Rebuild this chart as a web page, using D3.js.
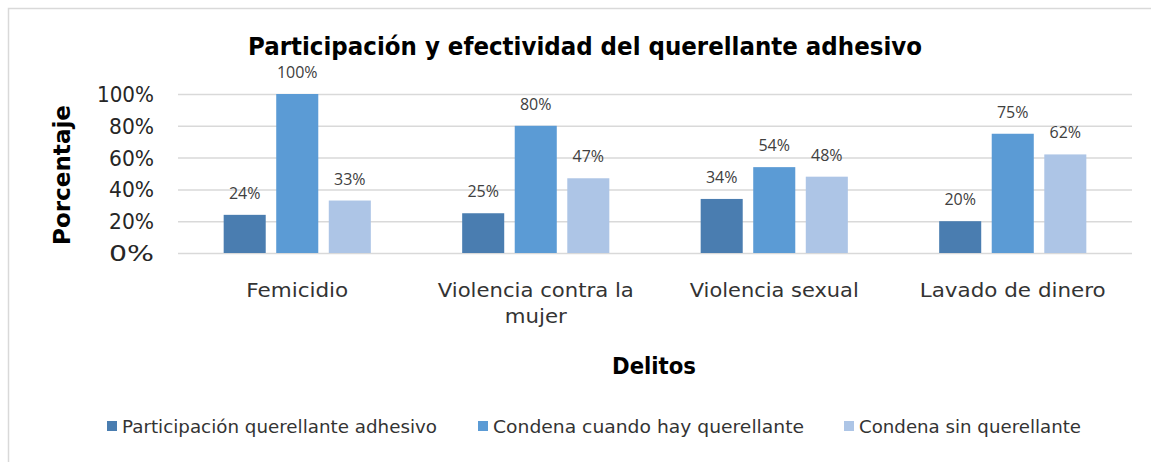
<!DOCTYPE html>
<html><head><meta charset="utf-8">
<script src="https://cdn.jsdelivr.net/npm/d3@7"></script>
<style>body{margin:0;background:#fff}</style>
</head><body>
<svg id="c" width="1151" height="462"></svg>
<script>
const categories = ["Femicidio", "Violencia contra la mujer", "Violencia sexual", "Lavado de dinero"];
const categoryLines = [["Femicidio"], ["Violencia contra la", "mujer"], ["Violencia sexual"], ["Lavado de dinero"]];
const seriesNames = ["Participación querellante adhesivo", "Condena cuando hay querellante", "Condena sin querellante"];
const participacion = [24, 25, 34, 20];
const condenaCon = [100, 80, 54, 75];
const condenaSin = [33, 47, 48, 62];
const yTicks = [0, 20, 40, 60, 80, 100];
const colors = ["#4A7DB0", "#5B9BD5", "#ADC5E6"];
const seriesValues = [participacion, condenaCon, condenaSin];

const svg = d3.select("#c");
const GOTHIC = "'DejaVu Sans', sans-serif";

svg.append("rect").attr("x", 8.5).attr("y", 8.5).attr("width", 1150).attr("height", 460)
  .attr("fill", "none").attr("stroke", "#D9D9D9").attr("stroke-width", 1.5);

const x0 = d3.scaleBand().domain(categories).range([178, 1132]).paddingInner(0.383).paddingOuter(0.1915);
const x1 = d3.scaleBand().domain(seriesNames).range([0, x0.bandwidth()]).paddingInner(0.2);
const y = d3.scaleLinear().domain([0, 100]).range([253, 94]);

function fit(sel, w) { sel.attr("textLength", w).attr("lengthAdjust", "spacingAndGlyphs"); return sel; }

// gridlines
const yAxis = d3.axisLeft(y).tickValues(yTicks).tickSize(-(1132 - 178)).tickFormat(d => d + "%");
const ga = svg.append("g").attr("transform", "translate(178,0)").call(yAxis);
ga.select(".domain").remove();
ga.selectAll(".tick line").attr("stroke", "#D9D9D9").attr("stroke-width", 1.5);
ga.selectAll(".tick text").attr("x", -24).attr("dy", "0.36em")
  .attr("font-family", GOTHIC).attr("font-size", 21).attr("fill", "#262626")
  .each(function(d){ fit(d3.select(this), d === 100 ? 57 : 45); });

// bars
const groups = svg.append("g").selectAll("g").data(categories).join("g")
  .attr("transform", d => `translate(${x0(d)},0)`);
seriesNames.forEach((s, si) => {
  groups.append("rect")
    .attr("x", x1(s)).attr("width", x1.bandwidth())
    .attr("y", (d, i) => y(seriesValues[si][i]))
    .attr("height", (d, i) => y(0) - y(seriesValues[si][i]))
    .attr("fill", colors[si]);
  groups.append("text")
    .attr("x", x1(s) + x1.bandwidth() / 2)
    .attr("y", (d, i) => y(seriesValues[si][i]) - 16)
    .attr("text-anchor", "middle")
    .attr("font-family", "'Open Sans', sans-serif").attr("font-size", 16).attr("fill", "#404040")
    .text((d, i) => seriesValues[si][i] + "%");
});

// category labels
const widths = [[102], [196, 62], [169], [186]];
categories.forEach((c, i) => {
  categoryLines[i].forEach((line, li) => {
    const t = svg.append("text").attr("x", x0(c) + x0.bandwidth() / 2).attr("y", 297 + li * 26)
      .attr("text-anchor", "middle").attr("font-family", GOTHIC).attr("font-size", 19).attr("fill", "#333")
      .text(line);
    fit(t, widths[i][li]);
  });
});

// title
fit(svg.append("text").attr("x", 585).attr("y", 55).attr("text-anchor", "middle")
  .attr("font-family", GOTHIC).attr("font-weight", "bold").attr("font-size", 25).attr("fill", "#000")
  .text("Participación y efectividad del querellante adhesivo"), 674);

// axis titles
fit(svg.append("text").attr("x", 654).attr("y", 374).attr("text-anchor", "middle")
  .attr("font-family", GOTHIC).attr("font-weight", "bold").attr("font-size", 23).attr("fill", "#000")
  .text("Delitos"), 84);
fit(svg.append("text").attr("transform", "translate(70,175) rotate(-90)").attr("text-anchor", "middle")
  .attr("font-family", GOTHIC).attr("font-weight", "bold").attr("font-size", 23).attr("fill", "#000")
  .text("Porcentaje"), 140);

// legend
const legendX = [107, 478, 844];
const legendW = [315, 311, 222];
seriesNames.forEach((s, i) => {
  svg.append("rect").attr("x", legendX[i]).attr("y", 421).attr("width", 10).attr("height", 10).attr("fill", colors[i]);
  fit(svg.append("text").attr("x", legendX[i] + 15).attr("y", 433)
    .attr("font-family", GOTHIC).attr("font-size", 17).attr("fill", "#333").text(s), legendW[i]);
});
</script>
</body></html>
